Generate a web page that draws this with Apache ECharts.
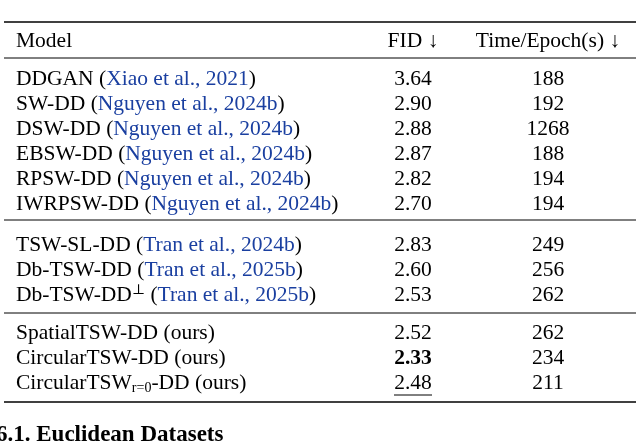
<!DOCTYPE html>
<html><head><meta charset="utf-8">
<script src="https://cdn.jsdelivr.net/npm/echarts@6/dist/echarts.min.js"></script>
<style>html,body{margin:0;padding:0;background:#fff}#c{width:640px;height:441px}</style>
</head><body><div id="c"></div>
<script>
// table data
const headers = ["Model", "FID \u2193", "Time/Epoch(s) \u2193"];
const models = ["DDGAN", "SW-DD", "DSW-DD", "EBSW-DD", "RPSW-DD", "IWRPSW-DD",
  "TSW-SL-DD", "Db-TSW-DD", "Db-TSW-DD", "SpatialTSW-DD", "CircularTSW-DD", "CircularTSW"];
const modelSup = ["", "", "", "", "", "", "", "", "\u22a5", "", "", ""];
const modelSub = ["", "", "", "", "", "", "", "", "", "", "", "r=0"];
const modelTail = ["", "", "", "", "", "", "", "", "", " (ours)", " (ours)", "-DD (ours)"];
const cites = ["Xiao et al., 2021", "Nguyen et al., 2024b", "Nguyen et al., 2024b", "Nguyen et al., 2024b",
  "Nguyen et al., 2024b", "Nguyen et al., 2024b", "Tran et al., 2024b", "Tran et al., 2025b",
  "Tran et al., 2025b", "", "", ""];
const fid = ["3.64", "2.90", "2.88", "2.87", "2.82", "2.70", "2.83", "2.60", "2.53", "2.52", "2.33", "2.48"];
const timeEpoch = ["188", "192", "1268", "188", "194", "194", "249", "256", "262", "262", "234", "211"];
const groups = [0, 0, 0, 0, 0, 0, 1, 1, 1, 2, 2, 2];
const bestIdx = 10, secondIdx = 11;

const chart = echarts.init(document.getElementById('c'));
const font = '"Liberation Serif", "DejaVu Serif", serif';
const fs = 21.5;
const blue = '#1a3fa0';
const els = [];
function hline(y, w) {
  els.push({type: 'line', shape: {x1: 4, y1: y, x2: 636, y2: y}, style: {stroke: '#000', lineWidth: w}});
}
function txt(x, y, text, align, rich, weight) {
  els.push({type: 'text', x: x, y: y, style: {text: text, x: 0, y: 0, align: align, verticalAlign: 'middle',
    fontFamily: font, fontSize: fs, fill: '#000', fontWeight: weight || 'normal', rich: rich || {}}});
}
const xModel = 16, xFid = 413, xTime = 548;
hline(22, 1.6);
txt(xModel, 41, headers[0], 'left');
txt(xFid, 41, headers[1], 'center');
txt(xTime, 41, headers[2], 'center');
hline(58, 1);
const groupStart = [79, 245, 333];
const groupLines = [220, 313];
groupLines.forEach(y => hline(y, 1));
const rich = {
  n: {fontFamily: font, fontSize: fs, fill: '#000'},
  b: {fontFamily: font, fontSize: fs, fill: blue},
  sup: {fontFamily: font, fontSize: 14, fill: '#000', verticalAlign: 'top', padding: [0, 0, 10, 0]},
  sub: {fontFamily: font, fontSize: 14, fill: '#000', padding: [10, 0, 0, 0]}
};
let counts = [0, 0, 0];
models.forEach((m, i) => {
  const g = groups[i];
  const y = groupStart[g] + 25 * counts[g]++;
  let s = '{n|' + m + '}';
  if (modelSup[i]) s += '{sup|' + modelSup[i] + '}';
  if (modelSub[i]) s += '{sub|' + modelSub[i] + '}';
  if (modelTail[i]) s += '{n|' + modelTail[i] + '}';
  if (cites[i]) s += '{n| (}{b|' + cites[i] + '}{n|)}';
  txt(xModel, y, s, 'left', rich);
  txt(xFid, y, fid[i], 'center', null, i === bestIdx ? 'bold' : 'normal');
  if (i === secondIdx) {
    els.push({type: 'line', shape: {x1: xFid - 19, y1: y + 12, x2: xFid + 19, y2: y + 12}, style: {stroke: '#000', lineWidth: 1}});
  }
  txt(xTime, y, timeEpoch[i], 'center');
});
hline(402, 1.6);
els.push({type: 'text', x: -4, y: 424, style: {text: '6.1. Euclidean Datasets', fontFamily: font, fontSize: 23,
  fontWeight: 'bold', fill: '#000'}});
chart.setOption({animation: false, graphic: els});
</script></body></html>
